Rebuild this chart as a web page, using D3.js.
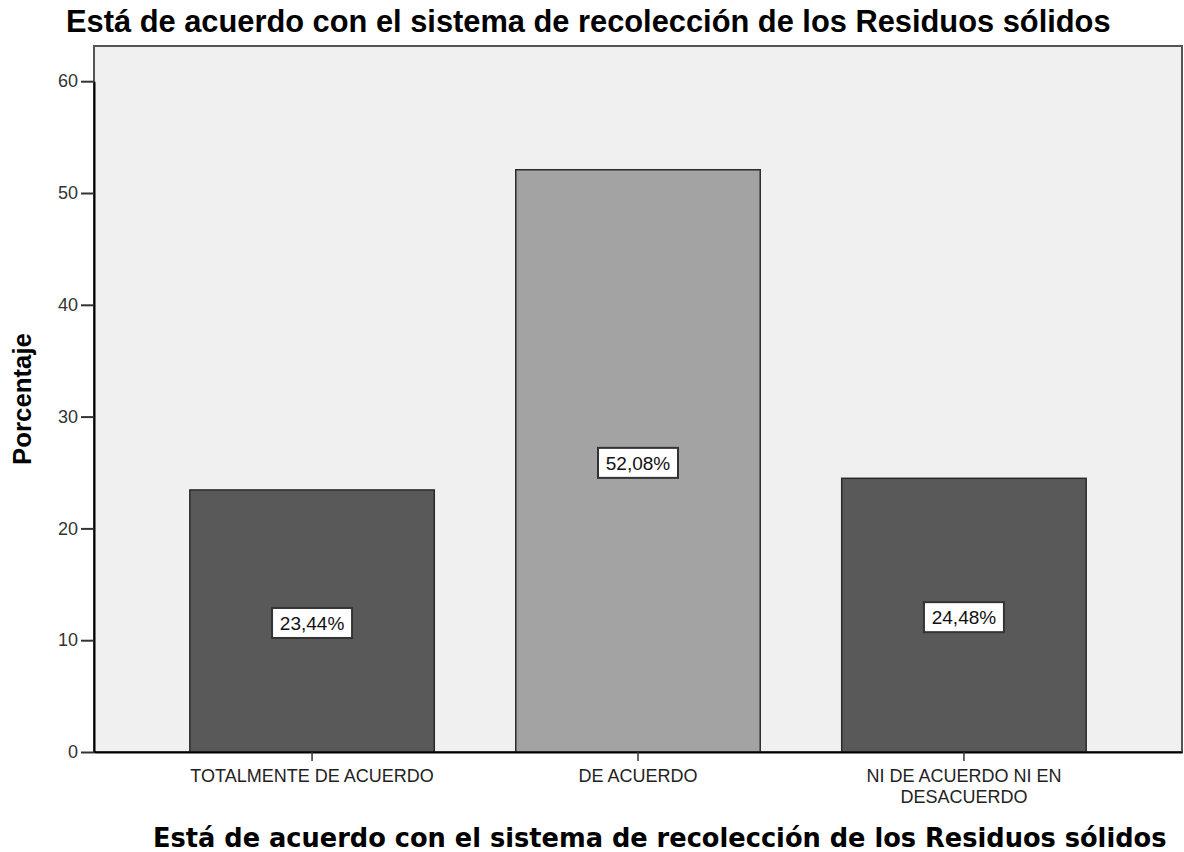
<!DOCTYPE html>
<html>
<head>
<meta charset="utf-8">
<script src="https://cdn.jsdelivr.net/npm/d3@7"></script>
<style>
  body { margin: 0; background: #fff; }
  svg { display: block; }
</style>
</head>
<body>
<div id="chart"></div>
<script>
// data
const categories = ["TOTALMENTE DE ACUERDO", "DE ACUERDO", "NI DE ACUERDO NI EN DESACUERDO"];
const categoryLines = [["TOTALMENTE DE ACUERDO"], ["DE ACUERDO"], ["NI DE ACUERDO NI EN", "DESACUERDO"]];
const percents = [23.44, 52.08, 24.48];
const barColors = ["#595959", "#a3a3a3", "#595959"];
const yTicks = [0, 10, 20, 30, 40, 50, 60];
const titleText = "Está de acuerdo con el sistema de recolección de los Residuos sólidos";

const width = 1184, height = 852;
const plot = { left: 94, right: 1182, top: 46, bottom: 752 };

const svg = d3.select("#chart").append("svg")
    .attr("width", width)
    .attr("height", height)
    .style("font-family", "Liberation Sans, Arial, sans-serif");

const x = d3.scaleBand()
    .domain(categories)
    .range([plot.left, plot.right])
    .paddingInner(0.25)
    .paddingOuter(0.294);

const y = d3.scaleLinear()
    .domain([0, 60])
    .range([plot.bottom, plot.bottom - 60 * 11.18]);

// plot background + frame
svg.append("rect")
    .attr("x", plot.left)
    .attr("y", plot.top)
    .attr("width", plot.right - plot.left)
    .attr("height", plot.bottom - plot.top)
    .attr("fill", "#f0f0f0")
    .attr("stroke", "#555")
    .attr("stroke-width", 2);

// bars
svg.selectAll(".bar")
    .data(categories)
    .join("rect")
    .attr("class", "bar")
    .attr("x", d => x(d))
    .attr("y", (d, i) => y(percents[i]))
    .attr("width", x.bandwidth())
    .attr("height", (d, i) => y(0) - y(percents[i]))
    .attr("fill", (d, i) => barColors[i])
    .attr("stroke", "#2b2b2b")
    .attr("stroke-width", 1.5);

// y axis
const yAxis = svg.append("g")
    .attr("transform", `translate(${plot.left},0)`)
    .call(d3.axisLeft(y).tickValues(yTicks).tickSize(13).tickSizeOuter(0).tickPadding(3));
yAxis.attr("font-size", null).attr("font-family", null);
yAxis.select(".domain").attr("stroke", "#000").attr("stroke-width", 2);
yAxis.selectAll(".tick line").attr("stroke", "#333").attr("stroke-width", 2);
yAxis.selectAll(".tick text")
    .attr("fill", "#333")
    .style("font-size", "18px");

// x axis
const xAxis = svg.append("g")
    .attr("transform", `translate(0,${plot.bottom})`)
    .call(d3.axisBottom(x).tickSize(9).tickSizeOuter(0).tickFormat(""));
xAxis.select(".domain").attr("stroke", "#000").attr("stroke-width", 2);
xAxis.selectAll(".tick line").attr("stroke", "#333").attr("stroke-width", 1.5);

// category labels (wrapped like the original)
svg.append("g").selectAll("text")
    .data(categories)
    .join("text")
    .attr("x", d => x(d) + x.bandwidth() / 2)
    .attr("y", 782)
    .attr("text-anchor", "middle")
    .attr("fill", "#222")
    .style("font-size", "18px")
    .each(function(d, i) {
        d3.select(this).selectAll("tspan")
            .data(categoryLines[i])
            .join("tspan")
            .attr("x", x(d) + x.bandwidth() / 2)
            .attr("dy", (t, j) => j === 0 ? 0 : 20.5)
            .text(t => t);
    });

// value labels in white boxes at bar middle
const labels = svg.append("g").selectAll("g")
    .data(categories)
    .join("g")
    .attr("transform", (d, i) => `translate(${x(d) + x.bandwidth() / 2},${(y(0) + y(percents[i])) / 2 + 2})`);

labels.append("rect")
    .attr("x", -40)
    .attr("y", -15)
    .attr("width", 80)
    .attr("height", 30)
    .attr("fill", "#fff")
    .attr("stroke", "#333")
    .attr("stroke-width", 2);

labels.append("text")
    .attr("text-anchor", "middle")
    .attr("dy", "0.36em")
    .attr("fill", "#111")
    .style("font-size", "19px")
    .text((d, i) => d3.format(".2f")(percents[i]).replace(".", ",") + "%");

// fit a text element's width to a target by tuning the font-size
function fitWidth(sel, target) {
    const fs = parseFloat(sel.style("font-size"));
    const w = sel.node().getComputedTextLength();
    sel.style("font-size", (fs * target / w) + "px");
}

const title = svg.append("text")
    .attr("x", 66)
    .attr("y", 32)
    .attr("fill", "#000")
    .style("font-weight", "bold")
    .style("font-size", "24px")
    .text(titleText);
fitWidth(title, 1045);

const xTitle = svg.append("text")
    .attr("x", 153)
    .attr("y", 847)
    .attr("fill", "#000")
    .style("font-family", "DejaVu Sans, Verdana, sans-serif")
    .style("font-weight", "bold")
    .style("font-size", "20px")
    .text(titleText);
fitWidth(xTitle, 1014);

const yTitle = svg.append("text")
    .attr("transform", `translate(31,${(plot.top + plot.bottom) / 2}) rotate(-90)`)
    .attr("text-anchor", "middle")
    .attr("fill", "#000")
    .style("font-weight", "bold")
    .style("font-size", "22px")
    .text("Porcentaje");
fitWidth(yTitle, 132);
</script>
</body>
</html>
